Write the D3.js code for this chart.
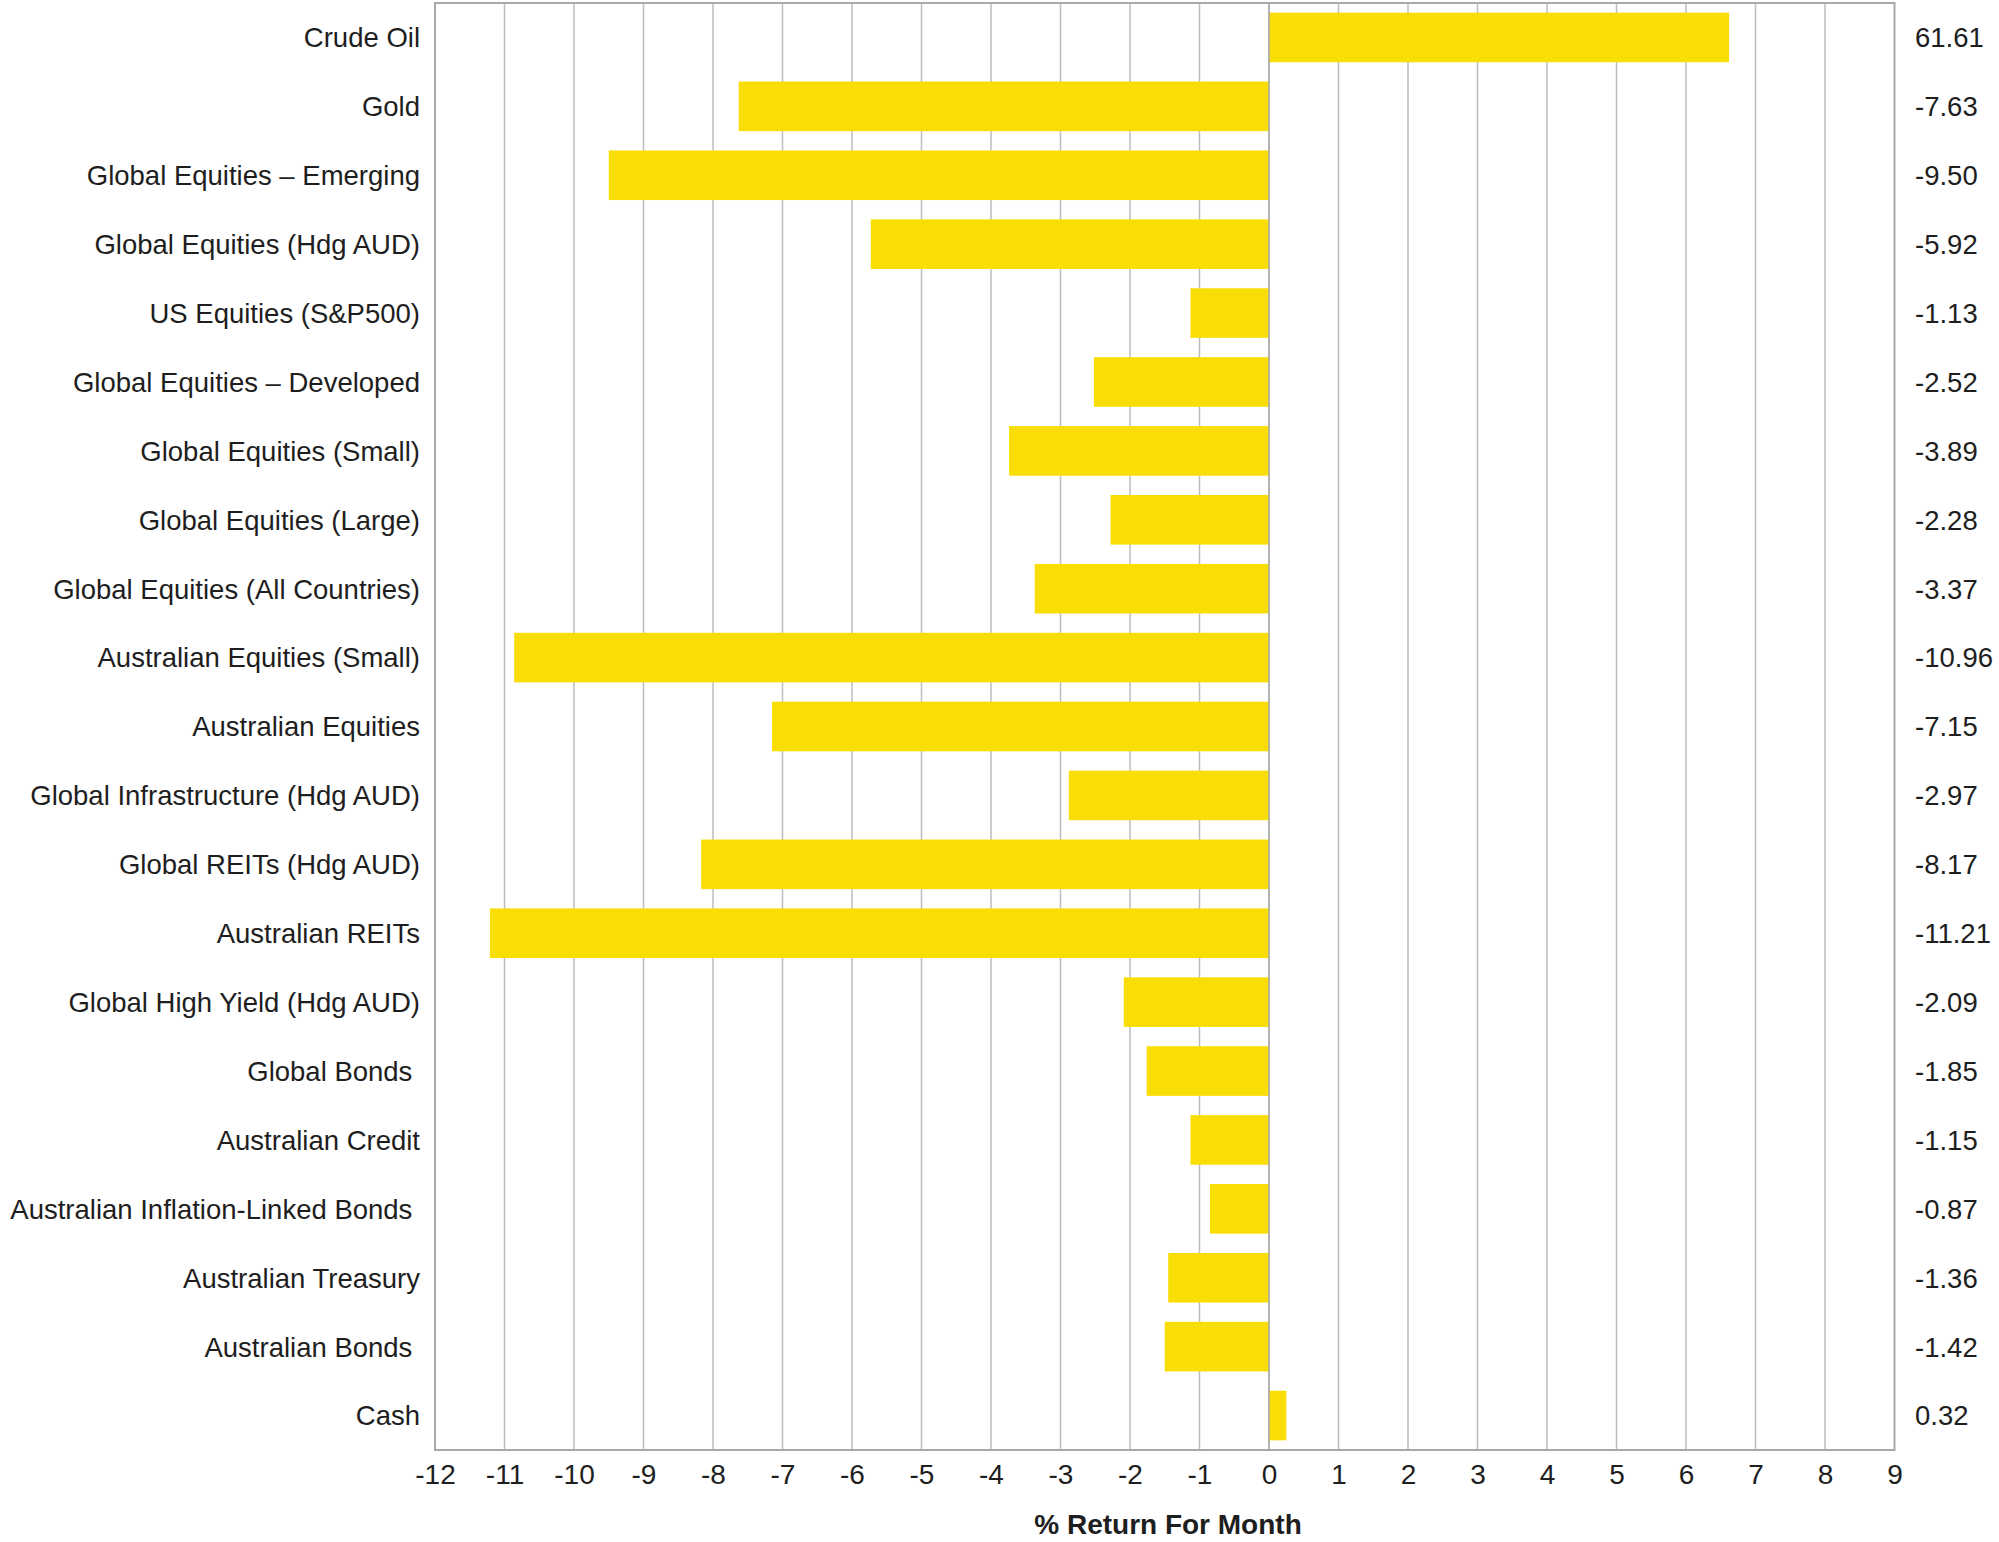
<!DOCTYPE html>
<html lang="en">
<head>
<meta charset="UTF-8">
<title>% Return For Month</title>
<script src="https://d3js.org/d3.v7.min.js"></script>
<style>
  body { margin: 0; background: #fff; }
  svg text { font-family: 'Liberation Sans', Arial, Helvetica, sans-serif; fill: #1e1e1e; }
</style>
</head>
<body>
<div id="chart"></div>
<script>
  // asset classes, top to bottom
  const categories = [
    'Crude Oil', 'Gold', 'Global Equities \u2013 Emerging', 'Global Equities (Hdg AUD)',
    'US Equities (S&P500)', 'Global Equities \u2013 Developed', 'Global Equities (Small)',
    'Global Equities (Large)', 'Global Equities (All Countries)', 'Australian Equities (Small)',
    'Australian Equities', 'Global Infrastructure (Hdg AUD)', 'Global REITs (Hdg AUD)',
    'Australian REITs', 'Global High Yield (Hdg AUD)', 'Global Bonds\u00a0',
    'Australian Credit', 'Australian Inflation-Linked Bonds\u00a0', 'Australian Treasury',
    'Australian Bonds\u00a0', 'Cash'
  ];
  // bar lengths as drawn in the chart
  const barValues = [
    6.62, -7.63, -9.50, -5.73, -1.13, -2.52, -3.74, -2.28, -3.37, -10.86,
    -7.15, -2.88, -8.17, -11.21, -2.09, -1.76, -1.13, -0.85, -1.45, -1.50, 0.25
  ];
  // printed figures on the right
  const valueLabels = [
    '61.61', '-7.63', '-9.50', '-5.92', '-1.13', '-2.52', '-3.89', '-2.28', '-3.37', '-10.96',
    '-7.15', '-2.97', '-8.17', '-11.21', '-2.09', '-1.85', '-1.15', '-0.87', '-1.36', '-1.42', '0.32'
  ];
  const xTicks = d3.range(-12, 10);

  const width = 1999, height = 1542;
  const m = { left: 435, right: 1894.5, top: 3, bottom: 1450 };

  const svg = d3.select('#chart').append('svg')
    .attr('width', width).attr('height', height);

  const x = d3.scaleLinear().domain([-12, 9]).range([m.left, m.right]);
  const y = d3.scaleBand().domain(categories).range([m.top, m.bottom])
    .paddingInner(0.28).paddingOuter(0.14);

  // vertical gridlines
  svg.append('g').selectAll('line').data(xTicks.slice(1, -1)).enter()
    .append('line')
    .attr('x1', d => x(d)).attr('x2', d => x(d))
    .attr('y1', m.top).attr('y2', m.bottom)
    .attr('stroke', '#bdbdbd').attr('stroke-width', 1.5);

  // bars
  svg.append('g').selectAll('rect').data(categories).enter()
    .append('rect')
    .attr('x', (d, i) => x(Math.min(0, barValues[i])))
    .attr('y', d => y(d))
    .attr('width', (d, i) => Math.abs(x(barValues[i]) - x(0)))
    .attr('height', y.bandwidth())
    .attr('fill', '#f9de06');

  // zero line on top of bars
  svg.append('line')
    .attr('x1', x(0)).attr('x2', x(0)).attr('y1', m.top).attr('y2', m.bottom)
    .attr('stroke', '#a8a8a8').attr('stroke-width', 1.5);

  // frame
  svg.append('rect')
    .attr('x', m.left).attr('y', m.top)
    .attr('width', m.right - m.left).attr('height', m.bottom - m.top)
    .attr('fill', 'none').attr('stroke', '#a8a8a8').attr('stroke-width', 2);

  // category labels
  svg.append('g').selectAll('text').data(categories).enter()
    .append('text')
    .attr('x', 420)
    .attr('y', d => y(d) + y.bandwidth() / 2)
    .attr('dy', '0.36em')
    .attr('text-anchor', 'end')
    .attr('font-size', 27.5)
    .style('white-space', 'pre')
    .text(d => d);

  // value labels
  svg.append('g').selectAll('text').data(categories).enter()
    .append('text')
    .attr('x', 1915)
    .attr('y', d => y(d) + y.bandwidth() / 2)
    .attr('dy', '0.36em')
    .attr('font-size', 27.5)
    .text((d, i) => valueLabels[i]);

  // x axis tick labels (plain hyphen minus like the original)
  const xAxis = d3.axisBottom(x).tickValues(xTicks).tickSize(0).tickPadding(14)
    .tickFormat(d => String(d));
  const ax = svg.append('g').attr('transform', `translate(0,${m.bottom})`).call(xAxis);
  ax.select('.domain').remove();
  ax.selectAll('text').attr('font-size', 28).attr('font-family', null).style('fill', '#1e1e1e');

  // axis title
  svg.append('text')
    .attr('x', 1168).attr('y', 1534)
    .attr('text-anchor', 'middle')
    .attr('font-size', 28).attr('font-weight', 'bold')
    .text('% Return For Month');
</script>
</body>
</html>
